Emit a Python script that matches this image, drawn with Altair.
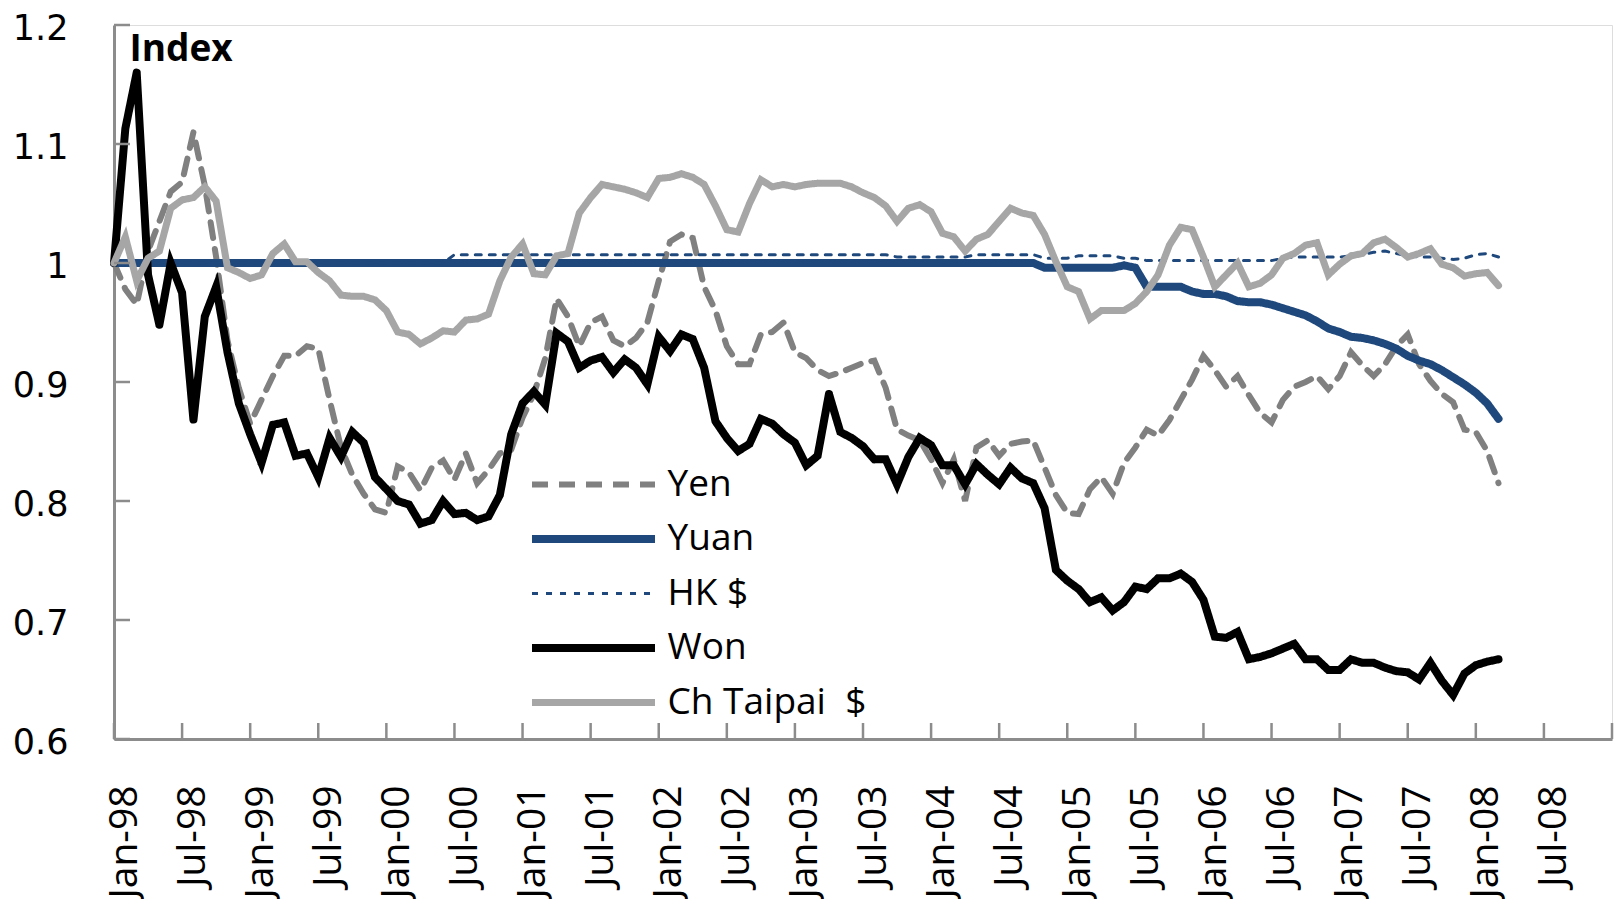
import altair as alt
import pandas as pd

# ---------------- data (monthly index values, Jan-98 .. Mar-08) ----------------
yen = [
    1.000, 0.978, 0.965, 1.010, 1.035, 1.060, 1.068, 1.110, 1.065, 1.005, 0.935, 0.895,
    0.865, 0.885, 0.905, 0.922, 0.922, 0.930, 0.928, 0.885, 0.845, 0.822, 0.806, 0.793,
    0.790, 0.829, 0.824, 0.809, 0.828, 0.834, 0.818, 0.840, 0.815, 0.826, 0.840, 0.843,
    0.870, 0.890, 0.920, 0.970, 0.955, 0.930, 0.950, 0.955, 0.935, 0.930, 0.937, 0.950,
    0.985, 1.018, 1.024, 1.021, 0.980, 0.960, 0.930, 0.915, 0.915, 0.940, 0.942, 0.950,
    0.925, 0.920, 0.910, 0.905, 0.908, 0.912, 0.916, 0.918, 0.895, 0.860, 0.855, 0.851,
    0.835, 0.815, 0.835, 0.800, 0.845, 0.851, 0.838, 0.848, 0.850, 0.851, 0.828, 0.805,
    0.790, 0.789, 0.810, 0.820, 0.806, 0.832, 0.845, 0.860, 0.855, 0.868, 0.885, 0.902,
    0.922, 0.910, 0.896, 0.905, 0.889, 0.874, 0.866, 0.885, 0.896, 0.900, 0.905, 0.894,
    0.905, 0.925, 0.914, 0.905, 0.915, 0.930, 0.940, 0.915, 0.901, 0.890, 0.883, 0.860,
    0.858, 0.842, 0.815,
]
yuan = [
    1.000, 1.000, 1.000, 1.000, 1.000, 1.000, 1.000, 1.000, 1.000, 1.000, 1.000, 1.000,
    1.000, 1.000, 1.000, 1.000, 1.000, 1.000, 1.000, 1.000, 1.000, 1.000, 1.000, 1.000,
    1.000, 1.000, 1.000, 1.000, 1.000, 1.000, 1.000, 1.000, 1.000, 1.000, 1.000, 1.000,
    1.000, 1.000, 1.000, 1.000, 1.000, 1.000, 1.000, 1.000, 1.000, 1.000, 1.000, 1.000,
    1.000, 1.000, 1.000, 1.000, 1.000, 1.000, 1.000, 1.000, 1.000, 1.000, 1.000, 1.000,
    1.000, 1.000, 1.000, 1.000, 1.000, 1.000, 1.000, 1.000, 1.000, 1.000, 1.000, 1.000,
    1.000, 1.000, 1.000, 1.000, 1.000, 1.000, 1.000, 1.000, 1.000, 1.000, 0.996, 0.996,
    0.996, 0.996, 0.996, 0.996, 0.996, 0.998, 0.996, 0.980, 0.980, 0.980, 0.980, 0.976,
    0.974, 0.974, 0.972, 0.968, 0.967, 0.967, 0.965, 0.962, 0.959, 0.956, 0.951, 0.945,
    0.942, 0.938, 0.937, 0.935, 0.932, 0.928, 0.922, 0.918, 0.915, 0.910, 0.904, 0.898,
    0.891, 0.882, 0.869,
]
hk = [
    1.000, 1.000, 1.000, 1.000, 1.000, 1.000, 1.000, 1.000, 1.000, 1.000, 1.000, 1.000,
    1.000, 1.000, 1.000, 1.000, 1.000, 1.000, 1.000, 1.000, 1.000, 1.000, 1.000, 1.000,
    1.000, 1.000, 1.000, 1.000, 1.000, 1.000, 1.007, 1.007, 1.007, 1.007, 1.007, 1.007,
    1.007, 1.007, 1.007, 1.007, 1.007, 1.007, 1.007, 1.007, 1.007, 1.007, 1.007, 1.007,
    1.007, 1.007, 1.007, 1.007, 1.007, 1.007, 1.007, 1.007, 1.007, 1.007, 1.007, 1.007,
    1.007, 1.007, 1.007, 1.007, 1.007, 1.007, 1.007, 1.007, 1.007, 1.005, 1.005, 1.005,
    1.005, 1.005, 1.005, 1.005, 1.007, 1.007, 1.007, 1.007, 1.007, 1.007, 1.004, 1.004,
    1.004, 1.006, 1.006, 1.006, 1.006, 1.004, 1.004, 1.002, 1.002, 1.002, 1.002, 1.002,
    1.002, 1.002, 1.002, 1.002, 1.002, 1.002, 1.002, 1.004, 1.005, 1.005, 1.005, 1.005,
    1.005, 1.006, 1.007, 1.009, 1.010, 1.008, 1.006, 1.005, 1.005, 1.004, 1.003, 1.004,
    1.007, 1.008, 1.005,
]
won = [
    1.000, 1.113, 1.160, 0.990, 0.948, 1.000, 0.975, 0.868, 0.955, 0.980, 0.925, 0.882,
    0.856, 0.832, 0.864, 0.866, 0.838, 0.840, 0.820, 0.853, 0.837, 0.858, 0.849, 0.820,
    0.810, 0.800, 0.797, 0.781, 0.784, 0.800, 0.789, 0.790, 0.784, 0.787, 0.805, 0.856,
    0.882, 0.892, 0.881, 0.941, 0.934, 0.912, 0.918, 0.921, 0.908, 0.919, 0.912, 0.898,
    0.938, 0.926, 0.940, 0.936, 0.912, 0.867, 0.853, 0.842, 0.848, 0.869, 0.865, 0.856,
    0.849, 0.830, 0.838, 0.890, 0.858, 0.853, 0.846, 0.835, 0.835, 0.814, 0.837, 0.853,
    0.847, 0.830, 0.830, 0.814, 0.831, 0.822, 0.814, 0.828, 0.819, 0.815, 0.794, 0.742,
    0.733, 0.726, 0.715, 0.719, 0.708, 0.715, 0.728, 0.726, 0.735, 0.735, 0.739, 0.732,
    0.717, 0.686, 0.685, 0.690, 0.667, 0.669, 0.672, 0.676, 0.680, 0.667, 0.667, 0.658,
    0.658, 0.667, 0.664, 0.664, 0.660, 0.657, 0.656, 0.650, 0.664, 0.649, 0.637, 0.655,
    0.662, 0.665, 0.667,
]
taipai = [
    1.000, 1.022, 0.985, 1.004, 1.010, 1.046, 1.053, 1.055, 1.064, 1.052, 0.996, 0.992,
    0.987, 0.990, 1.008, 1.016, 1.001, 1.001, 0.992, 0.985, 0.973, 0.972, 0.972, 0.969,
    0.960, 0.942, 0.940, 0.932, 0.937, 0.943, 0.942, 0.952, 0.953, 0.957, 0.985, 1.005,
    1.016, 0.991, 0.990, 1.006, 1.008, 1.042, 1.055, 1.066, 1.064, 1.062, 1.059, 1.055,
    1.071, 1.072, 1.075, 1.072, 1.066, 1.048, 1.028, 1.026, 1.050, 1.070, 1.064, 1.066,
    1.064, 1.066, 1.067, 1.067, 1.067, 1.064, 1.059, 1.055, 1.048, 1.035, 1.046, 1.049,
    1.043, 1.025, 1.022, 1.010, 1.020, 1.024, 1.035, 1.046, 1.042, 1.040, 1.024, 1.001,
    0.980, 0.976, 0.953, 0.960, 0.960, 0.960, 0.966, 0.976, 0.990, 1.015, 1.030, 1.028,
    1.005, 0.980, 0.990, 1.000, 0.980, 0.983, 0.990, 1.004, 1.008, 1.015, 1.017, 0.990,
    0.999, 1.006, 1.008, 1.017, 1.020, 1.013, 1.005, 1.008, 1.012, 0.999, 0.996, 0.989,
    0.991, 0.992, 0.981,
]

series_names = ["Yen", "Yuan", "HK $", "Won", "Ch Taipai\u00a0 $"]
series_values = [yen, yuan, hk, won, taipai]
series_colors = ["#808080", "#1f497d", "#1f497d", "#000000", "#a6a6a6"]
series_widths = [6, 8, 3, 8, 7]
series_dashes = [[16, 11], [1, 0], [6, 8], [1, 0], [1, 0]]

tick_labels = [
    "Jan-98", "Jul-98", "Jan-99", "Jul-99", "Jan-00", "Jul-00", "Jan-01", "Jul-01",
    "Jan-02", "Jul-02", "Jan-03", "Jul-03", "Jan-04", "Jul-04", "Jan-05", "Jul-05",
    "Jan-06", "Jul-06", "Jan-07", "Jul-07", "Jan-08", "Jul-08",
]
x_ticks = list(range(0, 133, 6))          # month index of each tick (last = Jan-09)
y_ticks = [0.6, 0.7, 0.8, 0.9, 1.0, 1.1, 1.2]

# ---------------- table ----------------
rows = []
for name, vals in zip(series_names, series_values):
    for i, v in enumerate(vals):
        rows.append({"m": i, "v": v, "series": name})
df = pd.DataFrame(rows)

W, H = 1498, 714
FONT = "Open Sans"
YFONT = "DejaVu Sans"
AXIS_GRAY = "#8c8c8c"

label_expr = "[" + ",".join("'%s'" % t for t in tick_labels) + "][round(datum.value/6)]"

x_axis = alt.Axis(
    values=x_ticks[:-1], labelExpr=label_expr, labelAngle=270, labelAlign="right",
    labelBaseline="middle", labelPadding=46, labelOffset=10, ticks=False, tickSize=0,
    grid=False, domainColor=AXIS_GRAY, domainWidth=3, labelFont=FONT, labelFontSize=39,
    labelColor="black", title=None, labelOverlap=False, labelFlush=False,
)
y_axis = alt.Axis(
    values=y_ticks, format="~g", labelFont=YFONT, labelFontSize=35, labelColor="black",
    labelPadding=46, labelOffset=3, ticks=False, tickSize=0, grid=False,
    domainColor=AXIS_GRAY, domainWidth=3, labelFlush=False, labelOverlap=False,
    title="Index", titleAngle=0, titleX=15, titleY=35, titleAlign="left",
    titleBaseline="alphabetic", titleFont=FONT, titleFontSize=37, titleFontWeight="bold",
    titleColor="black",
)

legend = alt.Legend(
    title=None, orient="none", legendX=418, legendY=441, direction="vertical",
    symbolType="M-4.1,0H4.1", symbolSize=900, labelFont=FONT, labelFontSize=37,
    labelColor="black", rowPadding=17, padding=0, symbolOffset=42.5, labelOffset=55,
    labelLimit=400,
)

xs = alt.Scale(domain=[0, 132], nice=False, zero=False)
ys = alt.Scale(domain=[0.6, 1.2], nice=False, zero=False)

base = alt.Chart(df).mark_line(strokeCap="round").encode(
    x=alt.X("m:Q", scale=xs, axis=x_axis),
    y=alt.Y("v:Q", scale=ys, axis=y_axis),
    color=alt.Color("series:N", scale=alt.Scale(domain=series_names, range=series_colors), legend=legend),
    strokeDash=alt.StrokeDash("series:N", scale=alt.Scale(domain=series_names, range=series_dashes), legend=legend),
    strokeWidth=alt.StrokeWidth("series:N", scale=alt.Scale(type="ordinal", domain=series_names, range=series_widths), legend=legend),
)

line_layers = [base.transform_filter(alt.datum.series == s) for s in series_names]

ytick_df = pd.DataFrame({"v": y_ticks})
xtick_df = pd.DataFrame({"m": x_ticks})

ytick_layer = alt.Chart(ytick_df).mark_rule(color=AXIS_GRAY, strokeWidth=2.5).encode(
    y=alt.Y("v:Q", scale=ys, axis=y_axis), x=alt.value(0), x2=alt.value(16)
)
xtick_layer = alt.Chart(xtick_df).mark_rule(color=AXIS_GRAY, strokeWidth=2.5).encode(
    x=alt.X("m:Q", scale=xs, axis=x_axis), y=alt.value(H), y2=alt.value(H - 16)
)

chart = alt.layer(*line_layers, ytick_layer, xtick_layer).properties(
    width=W, height=H,
    autosize=alt.AutoSizeParams(type="none"),
    padding={"left": 106, "top": 17, "right": 2, "bottom": 160},
).configure_view(stroke=None).configure(font=FONT)

chart.save("out.html", embed_options={"renderer": "svg", "actions": False})
